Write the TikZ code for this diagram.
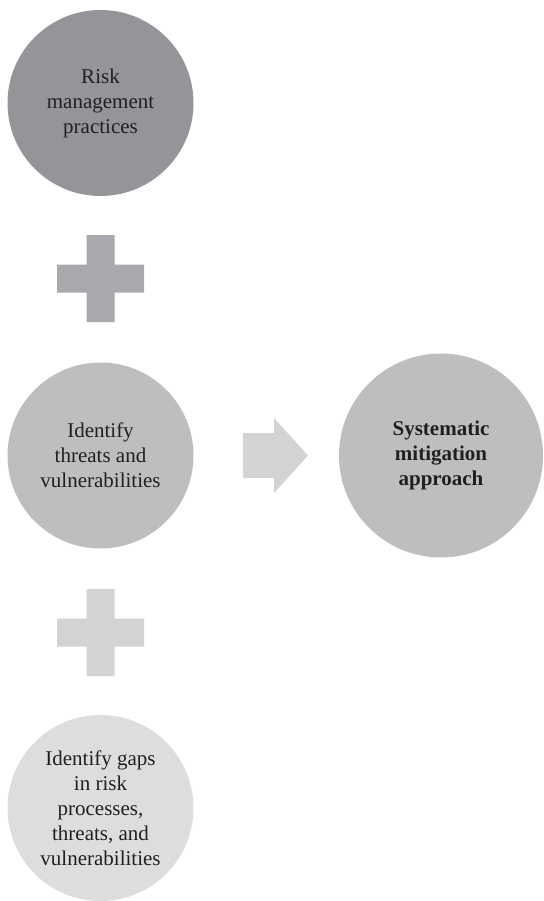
\documentclass[tikz,border=0pt]{standalone}
\usepackage{fontspec}
\setmainfont{Liberation Serif}
\definecolor{cA}{HTML}{939598}
\definecolor{cB}{HTML}{A7A9AC}
\definecolor{cC}{HTML}{BCBEC0}
\definecolor{cD}{HTML}{D1D3D4}
\definecolor{cE}{HTML}{DCDDDE}
\definecolor{txt}{HTML}{231F20}
\tikzset{
  bubble/.style={circle, draw=none, minimum size=186pt, inner sep=0pt, align=center, text=txt,
    font=\fontsize{21}{25}\selectfont},
}
\newcommand{\plusshape}[2]{%
  \fill[#2] ($(#1)+(-14,-43.5)$) -- ($(#1)+(14,-43.5)$) -- ($(#1)+(14,-14)$) -- ($(#1)+(43.5,-14)$)
    -- ($(#1)+(43.5,14)$) -- ($(#1)+(14,14)$) -- ($(#1)+(14,43.5)$) -- ($(#1)+(-14,43.5)$)
    -- ($(#1)+(-14,14)$) -- ($(#1)+(-43.5,14)$) -- ($(#1)+(-43.5,-14)$) -- ($(#1)+(-14,-14)$) -- cycle;}
\usetikzlibrary{calc}
\begin{document}
\begin{tikzpicture}[x=1pt,y=-1pt]
\useasboundingbox (0,0) rectangle (543,901);
\node[bubble, fill=cA] (risk) at (100.5,103) {Risk\\management\\practices};
\node[bubble, fill=cC] (ident) at (100.5,455.5) {Identify\\threats and\\vulnerabilities};
\node[bubble, fill=cC, minimum size=204pt, font=\fontsize{21}{25}\selectfont\bfseries] (sys) at (441,455.5) {Systematic\\mitigation\\approach};
\node[bubble, fill=cE] (gaps) at (100.5,808) {Identify gaps\\in risk\\processes,\\threats, and\\vulnerabilities};
\coordinate (p1) at (100.5,278.5);
\coordinate (p2) at (100.5,632.5);
\plusshape{p1}{cB}
\plusshape{p2}{cD}
\coordinate (ar) at (243,455.5);
\fill[cD] ($(ar)+(0,-22.5)$) -- ($(ar)+(31,-22.5)$) -- ($(ar)+(31,-37.5)$) -- ($(ar)+(65,0)$)
  -- ($(ar)+(31,37.5)$) -- ($(ar)+(31,22.5)$) -- ($(ar)+(0,22.5)$) -- cycle;
\end{tikzpicture}
\end{document}
